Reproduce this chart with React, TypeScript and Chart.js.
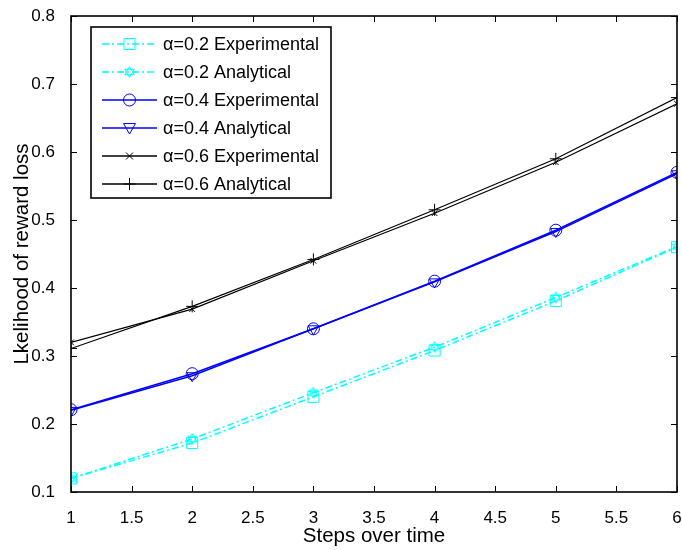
import React, { useEffect, useRef } from 'react';
import { Chart, registerables } from 'chart.js';

Chart.register(...registerables);

const steps = [1, 2, 3, 4, 5, 6];
const a02Exp = [0.12, 0.172, 0.24, 0.308, 0.381, 0.46];
const a02Ana = [0.12, 0.178, 0.246, 0.313, 0.386, 0.461];
const a04Exp = [0.221, 0.274, 0.34, 0.41, 0.485, 0.57];
const a04Ana = [0.22, 0.271, 0.34, 0.409, 0.483, 0.568];
const a06Exp = [0.32, 0.369, 0.44, 0.51, 0.585, 0.671];
const a06Ana = [0.311, 0.373, 0.442, 0.515, 0.59, 0.68];
const xTicks = [1, 1.5, 2, 2.5, 3, 3.5, 4, 4.5, 5, 5.5, 6];
const yTicks = [0.1, 0.2, 0.3, 0.4, 0.5, 0.6, 0.7, 0.8];
const seriesLabels = [
  'α=0.2 Experimental',
  'α=0.2 Analytical',
  'α=0.4 Experimental',
  'α=0.4 Analytical',
  'α=0.6 Experimental',
  'α=0.6 Analytical',
];

const CYAN = '#00FFFF';
const BLUE = '#0000FF';
const BLACK = '#000000';
const DASHDOT = [7, 3, 2, 3];
const FONT = '"Liberation Sans", Arial, sans-serif';

function hexagramPath(ctx: CanvasRenderingContext2D, cx: number, cy: number, r: number) {
  for (let t = 0; t < 2; t++) {
    ctx.beginPath();
    for (let i = 0; i < 3; i++) {
      const a = (t === 0 ? -Math.PI / 2 : Math.PI / 2) + (i * 2 * Math.PI) / 3;
      const px = cx + r * Math.cos(a);
      const py = cy + r * Math.sin(a);
      if (i === 0) ctx.moveTo(px, py);
      else ctx.lineTo(px, py);
    }
    ctx.closePath();
    ctx.stroke();
  }
}

function makeHexagram(color: string, r: number): HTMLCanvasElement {
  const c = document.createElement('canvas');
  const s = Math.ceil(2 * r + 3);
  c.width = s;
  c.height = s;
  const ctx = c.getContext('2d')!;
  ctx.strokeStyle = color;
  ctx.lineWidth = 1;
  hexagramPath(ctx, s / 2, s / 2, r);
  return c;
}

type MarkerKind = 'square' | 'hexagram' | 'circle' | 'triDown' | 'x' | 'plus';

function drawMarker(ctx: CanvasRenderingContext2D, kind: MarkerKind, x: number, y: number, color: string) {
  ctx.save();
  ctx.setLineDash([]);
  ctx.strokeStyle = color;
  ctx.lineWidth = 1;
  ctx.beginPath();
  if (kind === 'square') {
    ctx.rect(x - 5.5, y - 5.5, 11, 11);
    ctx.stroke();
  } else if (kind === 'hexagram') {
    hexagramPath(ctx, x, y, 5.5);
  } else if (kind === 'circle') {
    ctx.arc(x, y, 6, 0, Math.PI * 2);
    ctx.stroke();
  } else if (kind === 'triDown') {
    ctx.moveTo(x - 6, y - 4.5);
    ctx.lineTo(x + 6, y - 4.5);
    ctx.lineTo(x, y + 6);
    ctx.closePath();
    ctx.stroke();
  } else if (kind === 'x') {
    ctx.moveTo(x - 3.5, y - 3.5);
    ctx.lineTo(x + 3.5, y + 3.5);
    ctx.moveTo(x + 3.5, y - 3.5);
    ctx.lineTo(x - 3.5, y + 3.5);
    ctx.stroke();
  } else if (kind === 'plus') {
    ctx.moveTo(x - 6, y);
    ctx.lineTo(x + 6, y);
    ctx.moveTo(x, y - 6);
    ctx.lineTo(x, y + 6);
    ctx.stroke();
  }
  ctx.restore();
}

const legendStyles: { color: string; dash: number[]; marker: MarkerKind }[] = [
  { color: CYAN, dash: DASHDOT, marker: 'square' },
  { color: CYAN, dash: DASHDOT, marker: 'hexagram' },
  { color: BLUE, dash: [], marker: 'circle' },
  { color: BLUE, dash: [], marker: 'triDown' },
  { color: BLACK, dash: [], marker: 'x' },
  { color: BLACK, dash: [], marker: 'plus' },
];

const matlabPlugin = {
  id: 'matlabBox',
  afterDatasetsDraw(chart: any) {
    const { ctx, chartArea, scales } = chart;
    const { left, right, top, bottom } = chartArea;
    const x = scales.x;
    const y = scales.y;
    ctx.save();
    ctx.strokeStyle = '#000';
    ctx.lineWidth = 1;
    ctx.beginPath();
    xTicks.forEach((v) => {
      const px = Math.round(x.getPixelForValue(v)) + 0.5;
      ctx.moveTo(px, bottom);
      ctx.lineTo(px, bottom - 6);
      ctx.moveTo(px, top);
      ctx.lineTo(px, top + 6);
    });
    yTicks.forEach((v) => {
      const py = Math.round(y.getPixelForValue(v)) + 0.5;
      ctx.moveTo(left, py);
      ctx.lineTo(left + 6, py);
      ctx.moveTo(right, py);
      ctx.lineTo(right - 6, py);
    });
    ctx.stroke();
    ctx.lineWidth = 1.6;
    ctx.strokeRect(left, top, right - left, bottom - top);

    // legend
    const lx = 91;
    const ly = 27;
    const lw = 240;
    const lh = 171;
    ctx.fillStyle = '#fff';
    ctx.fillRect(lx, ly, lw, lh);
    ctx.lineWidth = 1.6;
    ctx.strokeStyle = '#000';
    ctx.strokeRect(lx, ly, lw, lh);
    ctx.font = `18px ${FONT}`;
    ctx.textBaseline = 'middle';
    ctx.textAlign = 'left';
    seriesLabels.forEach((lab, i) => {
      const st = legendStyles[i];
      const cy = 44 + i * 28;
      ctx.save();
      ctx.strokeStyle = st.color;
      ctx.lineWidth = 1.4;
      ctx.setLineDash(st.dash);
      ctx.beginPath();
      ctx.moveTo(102, cy);
      ctx.lineTo(157, cy);
      ctx.stroke();
      ctx.restore();
      drawMarker(ctx, st.marker, 129.5, cy, st.color);
      ctx.fillStyle = '#000';
      ctx.fillText(lab, 163, cy + 1);
    });
    ctx.restore();
  },
};

export default function App() {
  const ref = useRef<HTMLCanvasElement | null>(null);

  useEffect(() => {
    if (!ref.current) return;
    const hex = makeHexagram(CYAN, 5.5);
    const mk = (data: number[]) => steps.map((s, i) => ({ x: s, y: data[i] }));
    const common = {
      showLine: true,
      tension: 0,
      borderWidth: 1.5,
      pointBackgroundColor: 'rgba(0,0,0,0)',
      pointBorderWidth: 1,
      fill: false,
    };
    const chart = new Chart(ref.current, {
      type: 'scatter',
      data: {
        datasets: [
          { ...common, label: seriesLabels[0], data: mk(a02Exp), borderColor: CYAN, pointBorderColor: CYAN, borderDash: DASHDOT, pointStyle: 'rect', pointRadius: 7.8 },
          { ...common, label: seriesLabels[1], data: mk(a02Ana), borderColor: CYAN, pointBorderColor: CYAN, borderDash: DASHDOT, pointStyle: hex as any, pointRadius: 6 },
          { ...common, label: seriesLabels[2], data: mk(a04Exp), borderColor: BLUE, pointBorderColor: BLUE, pointStyle: 'circle', pointRadius: 6 },
          { ...common, label: seriesLabels[3], data: mk(a04Ana), borderColor: BLUE, pointBorderColor: BLUE, pointStyle: 'triangle', pointRotation: 180, pointRadius: 6 },
          { ...common, borderWidth: 1.2, label: seriesLabels[4], data: mk(a06Exp), borderColor: BLACK, pointBorderColor: BLACK, pointStyle: 'crossRot', pointRadius: 4 },
          { ...common, borderWidth: 1.2, label: seriesLabels[5], data: mk(a06Ana), borderColor: BLACK, pointBorderColor: BLACK, pointStyle: 'cross', pointRadius: 6 },
        ] as any,
      },
      options: {
        animation: false,
        responsive: false,
        devicePixelRatio: 1,
        layout: { autoPadding: false, padding: { top: 16, right: 5, left: 0, bottom: 0 } },
        plugins: {
          legend: { display: false },
          tooltip: { enabled: false },
        },
        scales: {
          x: {
            type: 'linear',
            min: 1,
            max: 6,
            grid: { display: false },
            border: { display: false },
            afterBuildTicks: (s: any) => {
              s.ticks = xTicks.map((v) => ({ value: v }));
            },
            afterFit: (s: any) => {
              s.height = 58;
              s.paddingLeft = 0;
              s.paddingRight = 0;
            },
            ticks: {
              color: '#000',
              padding: 8,
              maxRotation: 0,
              autoSkip: false,
              font: { family: FONT, size: 17 },
              callback: (v: any) => String(Math.round(Number(v) * 10) / 10),
            },
            title: {
              display: true,
              text: 'Steps over time',
              color: '#000',
              padding: { top: 0, bottom: 1 },
              font: { family: FONT, size: 20.5 },
            },
          },
          y: {
            type: 'linear',
            min: 0.1,
            max: 0.8,
            grid: { display: false },
            border: { display: false },
            afterBuildTicks: (s: any) => {
              s.ticks = yTicks.map((v) => ({ value: v }));
            },
            afterFit: (s: any) => {
              s.width = 71;
              s.paddingTop = 0;
              s.paddingBottom = 0;
            },
            ticks: {
              color: '#000',
              padding: 8,
              autoSkip: false,
              font: { family: FONT, size: 17 },
              callback: (v: any) => String(Math.round(Number(v) * 10) / 10),
            },
            title: {
              display: true,
              text: 'Lkelihood of reward loss',
              color: '#000',
              padding: { top: 10, bottom: 0 },
              font: { family: FONT, size: 20.5 },
            },
          },
        },
      },
      plugins: [matlabPlugin],
    });
    return () => chart.destroy();
  }, []);

  return (
    <div style={{ position: 'fixed', left: 0, top: 0, width: 682, height: 550, background: '#fff' }}>
      <canvas ref={ref} width={682} height={550} style={{ width: 682, height: 550, display: 'block' }} />
    </div>
  );
}
